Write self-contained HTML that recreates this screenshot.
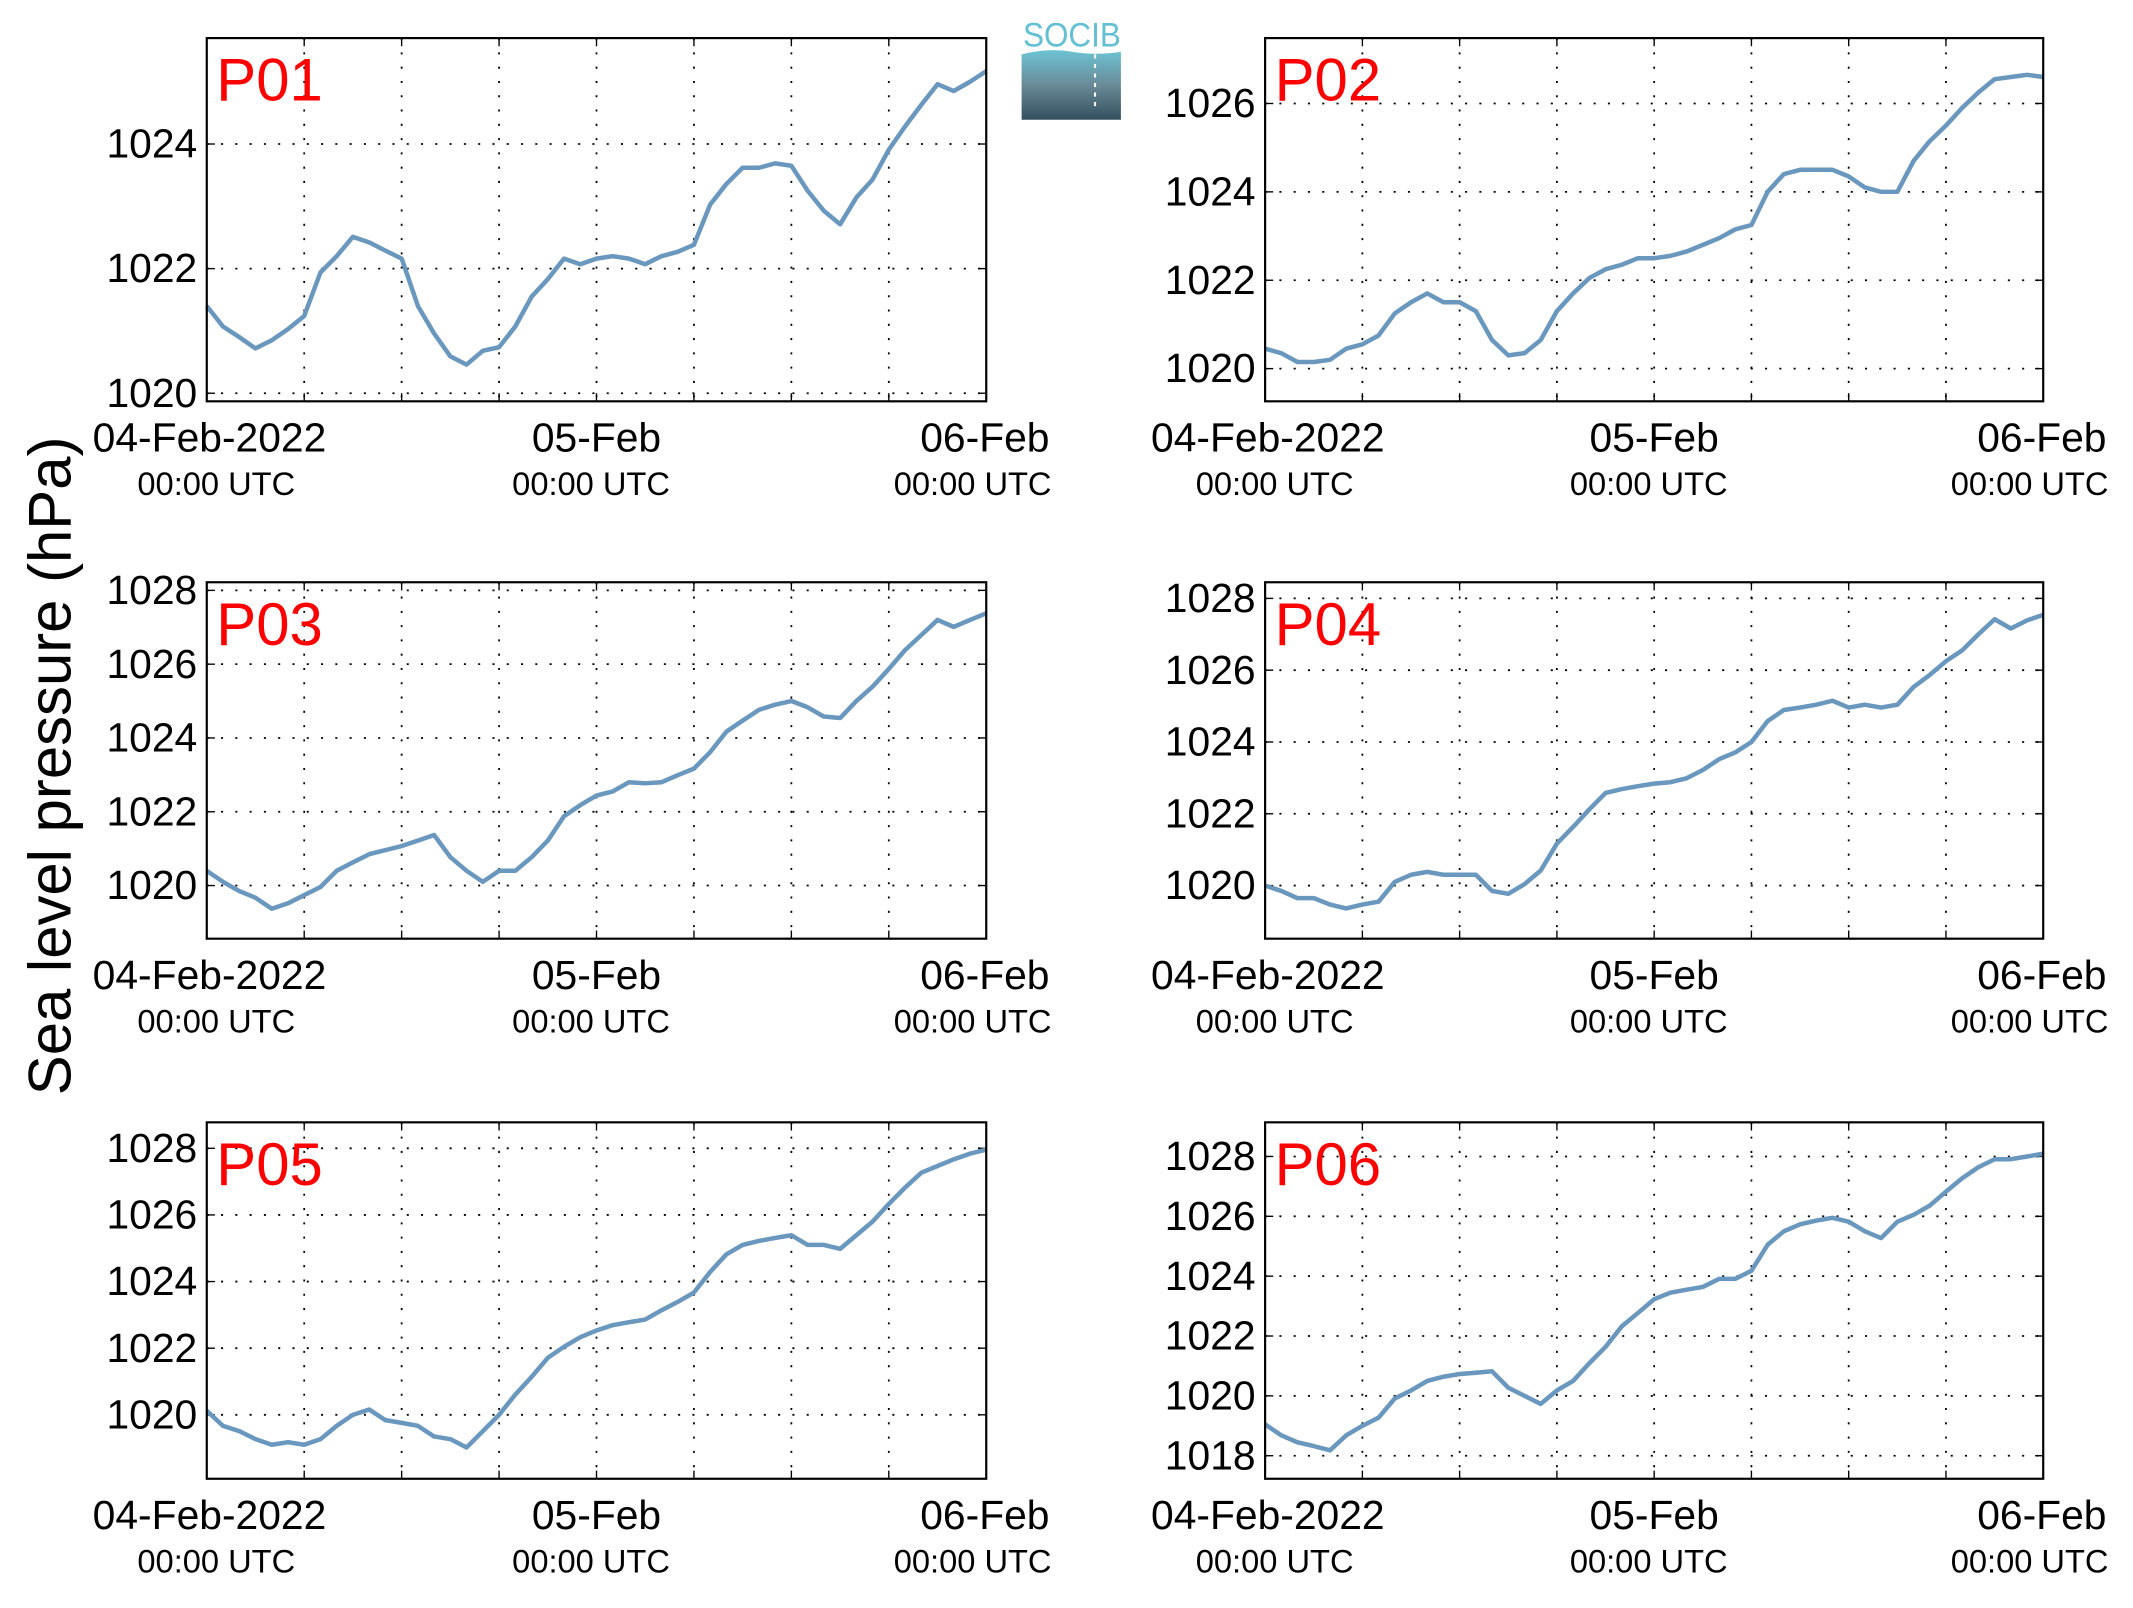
<!DOCTYPE html>
<html><head><meta charset="utf-8"><style>
html,body{margin:0;padding:0;background:#fff;}
svg{display:block;font-family:"Liberation Sans",Arial,sans-serif;}
</style></head><body>
<svg id="fig" width="2133" height="1608" viewBox="0 0 1568 1182" preserveAspectRatio="none" xmlns="http://www.w3.org/2000/svg">
<defs><linearGradient id="lg" x1="0" y1="0" x2="0" y2="1"><stop offset="0" stop-color="#6cc4d4"/><stop offset="0.5" stop-color="#6a8a98"/><stop offset="1" stop-color="#34505e"/></linearGradient></defs>
<g>
<text x="788" y="34" text-anchor="middle" font-size="25" fill="#62c0d2" textLength="72" lengthAdjust="spacingAndGlyphs">SOCIB</text>
<path d="M751,40 Q770,35 788,38 Q806,41 824,38 L824,88 L751,88 Z" fill="url(#lg)"/>
<line x1="805" y1="40" x2="805" y2="80" stroke="#fff" stroke-width="1.5" stroke-dasharray="3,4"/>
</g>
<text transform="translate(52,563) rotate(-90)" text-anchor="middle" font-size="44" fill="#000">Sea level pressure (hPa)</text>
</svg>
<script>
const hours = [];
for (let h = 0; h <= 48; h++) hours.push(h);
const panelNames = ["P01","P02","P03","P04","P05","P06"];
const xTickHours = [0, 24, 48];
const xTickLabels = ["04-Feb-2022","05-Feb","06-Feb"];
const xSubLabel = "00:00 UTC";
const yTicksP01 = [1020,1022,1024];
const yTicksP02 = [1020,1022,1024,1026];
const yTicksP03 = [1020,1022,1024,1026,1028];
const yTicksP04 = [1020,1022,1024,1026,1028];
const yTicksP05 = [1020,1022,1024,1026,1028];
const yTicksP06 = [1018,1020,1022,1024,1026,1028];
const yRangeP01 = [1019.87,1025.7];
const yRangeP02 = [1019.26,1027.48];
const yRangeP03 = [1018.56,1028.22];
const yRangeP04 = [1018.52,1028.45];
const yRangeP05 = [1018.08,1028.78];
const yRangeP06 = [1017.23,1029.14];
const seriesP01 = [1021.40,1021.07,1020.9,1020.72,1020.85,1021.03,1021.24,1021.94,1022.2,1022.51,1022.42,1022.29,1022.16,1021.4,1020.96,1020.59,1020.46,1020.68,1020.74,1021.07,1021.55,1021.83,1022.16,1022.07,1022.16,1022.2,1022.16,1022.07,1022.2,1022.27,1022.38,1023.03,1023.36,1023.62,1023.62,1023.69,1023.65,1023.25,1022.93,1022.71,1023.14,1023.43,1023.91,1024.28,1024.63,1024.96,1024.85,1025.0,1025.17];
const seriesP02 = [1020.45,1020.35,1020.15,1020.15,1020.2,1020.45,1020.55,1020.75,1021.25,1021.5,1021.7,1021.5,1021.5,1021.3,1020.65,1020.3,1020.35,1020.65,1021.3,1021.7,1022.05,1022.25,1022.35,1022.5,1022.5,1022.55,1022.65,1022.8,1022.95,1023.15,1023.25,1024.0,1024.4,1024.5,1024.5,1024.5,1024.35,1024.1,1024.0,1024.0,1024.7,1025.15,1025.5,1025.9,1026.25,1026.55,1026.6,1026.65,1026.6];
const seriesP03 = [1020.4,1020.1,1019.85,1019.67,1019.37,1019.52,1019.74,1019.96,1020.4,1020.63,1020.85,1020.96,1021.07,1021.22,1021.37,1020.77,1020.4,1020.1,1020.4,1020.4,1020.77,1021.22,1021.88,1022.18,1022.44,1022.55,1022.8,1022.77,1022.8,1022.99,1023.17,1023.62,1024.17,1024.47,1024.76,1024.9,1025.0,1024.83,1024.58,1024.54,1025.0,1025.39,1025.87,1026.38,1026.79,1027.2,1027.01,1027.2,1027.38];
const seriesP04 = [1020.0,1019.85,1019.65,1019.65,1019.47,1019.36,1019.47,1019.55,1020.1,1020.3,1020.38,1020.3,1020.3,1020.3,1019.85,1019.77,1020.04,1020.42,1021.17,1021.63,1022.12,1022.58,1022.69,1022.77,1022.84,1022.88,1022.99,1023.22,1023.52,1023.71,1024.0,1024.58,1024.89,1024.96,1025.04,1025.15,1024.96,1025.04,1024.96,1025.04,1025.53,1025.87,1026.25,1026.55,1027.0,1027.42,1027.16,1027.39,1027.54];
const seriesP05 = [1020.12,1019.67,1019.51,1019.27,1019.1,1019.18,1019.1,1019.27,1019.67,1020.0,1020.16,1019.84,1019.76,1019.67,1019.35,1019.27,1019.02,1019.51,1020.0,1020.61,1021.14,1021.71,1022.04,1022.33,1022.53,1022.69,1022.78,1022.86,1023.14,1023.39,1023.67,1024.29,1024.82,1025.1,1025.22,1025.31,1025.39,1025.1,1025.1,1024.98,1025.39,1025.8,1026.33,1026.82,1027.27,1027.47,1027.67,1027.84,1027.96];
const seriesP06 = [1019.05,1018.68,1018.45,1018.32,1018.18,1018.68,1019.0,1019.27,1019.91,1020.18,1020.5,1020.64,1020.73,1020.77,1020.82,1020.27,1020.0,1019.73,1020.18,1020.5,1021.09,1021.64,1022.32,1022.77,1023.23,1023.45,1023.55,1023.64,1023.91,1023.91,1024.18,1025.05,1025.5,1025.73,1025.86,1025.95,1025.82,1025.5,1025.27,1025.82,1026.05,1026.36,1026.82,1027.27,1027.64,1027.91,1027.91,1028.0,1028.09];

const allTicks=[yTicksP01,yTicksP02,yTicksP03,yTicksP04,yTicksP05,yTicksP06];
const allRanges=[yRangeP01,yRangeP02,yRangeP03,yRangeP04,yRangeP05,yRangeP06];
const allSeries=[seriesP01,seriesP02,seriesP03,seriesP04,seriesP05,seriesP06];
const NS="http://www.w3.org/2000/svg";
const svg=document.getElementById('fig');
const colsX=[[152,725],[930,1502]];
const rowsY=[[28,295],[428,690],[825,1087]];
function mk(tag,attrs,parent){const e=document.createElementNS(NS,tag);for(const k in attrs)e.setAttribute(k,attrs[k]);parent.appendChild(e);return e;}
for(let p=0;p<6;p++){
  const [x0,x1]=colsX[p%2],[y0,y1]=rowsY[Math.floor(p/2)];
  const [vmin,vmax]=allRanges[p];
  const xs=h=>x0+(h/48)*(x1-x0);
  const ys=v=>y1-(v-vmin)/(vmax-vmin)*(y1-y0);
  const g=mk('g',{},svg);
  
  
  for(let h=6;h<48;h+=6){
    const l=mk('line',{x1:xs(h),x2:xs(h),y1:y0,y2:y1,stroke:'#000','stroke-width':1.3,'stroke-dasharray':'1.5,9'},g);
    
    
    mk('line',{x1:xs(h),x2:xs(h),y1:y1,y2:y1-6,stroke:'#000','stroke-width':1},g);
    mk('line',{x1:xs(h),x2:xs(h),y1:y0,y2:y0+6,stroke:'#000','stroke-width':1},g);
  }
  allTicks[p].forEach(v=>{
    const y=ys(v);
    const l=mk('line',{x1:x0,x2:x1,y1:y,y2:y,stroke:'#000','stroke-width':1.3,'stroke-dasharray':'1.5,9'},g);
    
    
    mk('line',{x1:x0,x2:x0+6,y1:y,y2:y,stroke:'#000','stroke-width':1},g);
    mk('line',{x1:x1,x2:x1-6,y1:y,y2:y,stroke:'#000','stroke-width':1},g);
    const t=mk('text',{x:x0-7,y:y+10,'text-anchor':'end','font-size':30,fill:'#000'},g);
    t.textContent=v;
    
    
  });
  const d=allSeries[p].map((v,i)=>(i?'L':'M')+xs(hours[i]).toFixed(1)+','+ys(v).toFixed(1)).join(' ');
  const path=mk('path',{d:d,fill:'none',stroke:'#6a97bd','stroke-width':3.3,'stroke-linejoin':'round'},g);
  
  
  const fr=mk('rect',{x:x0,y:y0,width:x1-x0,height:y1-y0,fill:'none',stroke:'#000','stroke-width':1.6},g);
  
  
  const tt=mk('text',{x:x0+7,y:y0+46,'font-size':44,fill:'#ff0000'},g);
  tt.textContent=panelNames[p];
  
  
  xTickHours.forEach((h,i)=>{
    const cx=xs(h)+(i==0?2:(i==2?-1:0));
    const a=mk('text',{x:cx,y:y1+37,'text-anchor':'middle','font-size':30,fill:'#000'},g);
    a.textContent=xTickLabels[i];
    
    
    const b=mk('text',{x:cx+(i==0?5:(i==2?-9:-4)),y:y1+69,'text-anchor':'middle','font-size':24,fill:'#000'},g);
    b.textContent=xSubLabel;
    
    
  });
}
</script>
</body></html>
